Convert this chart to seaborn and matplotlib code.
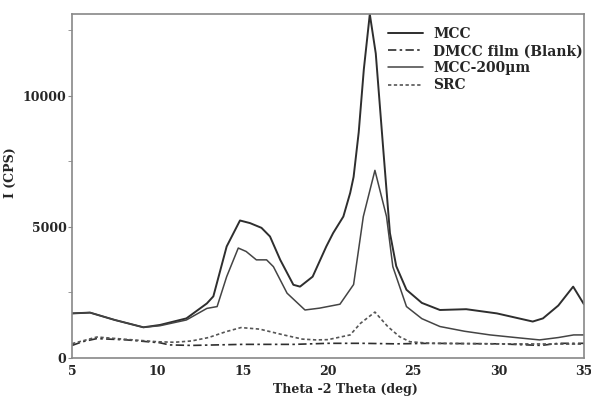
import matplotlib
matplotlib.use('Agg')
import matplotlib.pyplot as plt
import seaborn as sns
import pandas as pd
from matplotlib.ticker import MultipleLocator

# values (2theta in deg, intensity in CPS)
mcc_x = [5, 6.05, 7.5, 9.18, 10.15, 11.7, 12.9, 13.28, 14.06, 14.84, 15.43, 16.1, 16.6, 17.2,
         17.97, 18.36, 19.1, 19.9, 20.3, 20.9, 21.3, 21.5, 21.8, 22.1, 22.45, 22.8, 23.24, 23.63,
         24.0, 24.6, 25.5, 26.56, 28.1, 29.9, 32.0, 32.6, 33.5, 34.37, 35.0]
mcc_y = [1700, 1730, 1450, 1170, 1260, 1510, 2080, 2350, 4250, 5240, 5140, 4960, 4630, 3740,
         2790, 2720, 3100, 4250, 4760, 5390, 6290, 6900, 8600, 11000, 13100, 11600, 7940, 4760,
         3500, 2600, 2100, 1830, 1860, 1700, 1390, 1510, 2000, 2720, 2050]

dmcc_x = [5, 5.6, 6.45, 8.2, 10.15, 10.7, 12.0, 15.0, 18.0, 20.0, 22.0, 24.0, 26.0, 30.0,
          32.5, 33.5, 35.0]
dmcc_y = [480, 620, 740, 690, 580, 500, 480, 520, 520, 560, 560, 540, 560, 540, 480, 560, 560]

mcc200_x = [5, 6.05, 7.5, 9.18, 10.15, 11.7, 12.9, 13.5, 14.06, 14.74, 15.2, 15.8, 16.4, 16.8,
            17.6, 18.65, 19.5, 20.7, 21.5, 22.07, 22.75, 23.43, 23.8, 24.6, 25.5, 26.56, 28.0,
            29.5, 31.0, 32.4, 33.5, 34.4, 35.0]
mcc200_y = [1700, 1730, 1450, 1170, 1230, 1450, 1890, 1960, 3100, 4190, 4060, 3740, 3740, 3480,
            2470, 1830, 1900, 2050, 2800, 5390, 7150, 5390, 3480, 1960, 1500, 1200, 1020,
            880, 780, 690, 780, 880, 880]

src_x = [5, 5.6, 6.45, 8.0, 10.0, 11.0, 12.0, 13.0, 14.0, 14.9, 16.0, 17.4, 18.5, 19.3, 20.0,
         21.3, 21.9, 22.75, 23.5, 24.2, 24.8, 26.0, 30.0, 35.0]
src_y = [550, 650, 800, 720, 620, 600, 650, 780, 1000, 1160, 1100, 880, 720, 690, 700,
         880, 1320, 1750, 1200, 810, 620, 560, 540, 530]

series_names = ['MCC', 'DMCC film (Blank)', 'MCC-200µm', 'SRC']
x_ticks = [5, 10, 15, 20, 25, 30, 35]
y_ticks = [0, 5000, 10000]

sns.set_style('white')
plt.rcParams['font.family'] = ['DejaVu Serif']
plt.rcParams['font.weight'] = 'bold'

frames = []
for name, xs, ys in zip(series_names, [mcc_x, dmcc_x, mcc200_x, src_x],
                        [mcc_y, dmcc_y, mcc200_y, src_y]):
    frames.append(pd.DataFrame({'theta': xs, 'cps': ys, 'sample': name}))
df = pd.concat(frames, ignore_index=True)

fig = plt.figure(figsize=(5.91, 4.05), dpi=100)
ax = fig.add_axes([0.122, 0.116, 0.866, 0.849])

styles = {
    'MCC': dict(color='#2e2e2e', lw=1.4, ls='-'),
    'DMCC film (Blank)': dict(color='#2e2e2e', lw=1.2, ls=(0, (5, 2, 1.5, 2))),
    'MCC-200µm': dict(color='#444444', lw=1.1, ls='-'),
    'SRC': dict(color='#555555', lw=1.2, ls=(0, (2, 1.5))),
}
for name in series_names:
    st = styles[name]
    sns.lineplot(data=df[df['sample'] == name], x='theta', y='cps', ax=ax, label=name,
                 color=st['color'], linewidth=st['lw'], linestyle=st['ls'],
                 sort=False, estimator=None)

ax.set_xlim(5, 35)
ax.set_ylim(0, 13100)
ax.set_xticks(x_ticks)
ax.set_yticks(y_ticks)
ax.yaxis.set_minor_locator(MultipleLocator(2500))
ax.tick_params(axis='x', direction='in', length=3, labelsize=9, pad=5, color='#888888')
ax.tick_params(axis='y', which='both', direction='out', length=3, labelsize=9, pad=1,
               color='#888888', left=True)
ax.set_xlabel('Theta -2 Theta (deg)', fontsize=9, fontweight='bold')
ax.set_ylabel('I (CPS)', fontsize=9, fontweight='bold')
ax.xaxis.set_label_coords(0.535, -0.072)
ax.yaxis.set_label_coords(-0.108, 0.538)
for sp in ax.spines.values():
    sp.set_color('#888888')
    sp.set_linewidth(1.2)

ax.legend(loc='upper left', bbox_to_anchor=(0.617, 0.962), frameon=False, fontsize=10,
          handlelength=2.5, handletextpad=0.75, labelspacing=0.22, borderaxespad=0,
          borderpad=0)

fig.savefig('out.png', dpi=100)
